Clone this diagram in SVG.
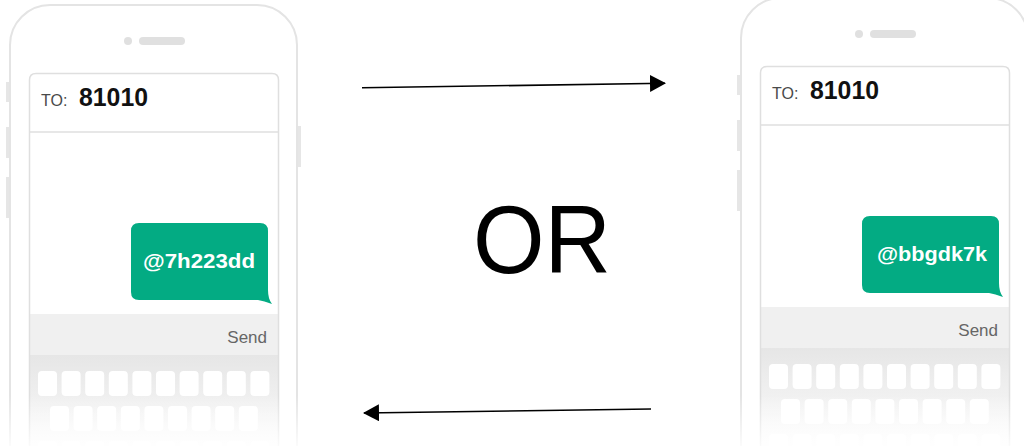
<svg xmlns="http://www.w3.org/2000/svg" width="1024" height="446" viewBox="0 0 1024 446">
<style>
.outline{fill:none;stroke:#e4e4e4;stroke-width:2}
.btn{fill:#e6e6e6}
.screen{fill:none;stroke:#dfdfdf;stroke-width:1.5}
.spk{fill:#e0e0e0}
.key{fill:#ffffff}
.to{font-family:"Liberation Sans",Arial,sans-serif;font-size:16px;fill:#4a4a4a}
.num{font-family:"Liberation Sans",Arial,sans-serif;font-size:26px;font-weight:bold;fill:#111}
.msg{font-family:"Liberation Sans",Arial,sans-serif;font-size:20px;font-weight:bold;fill:#fff}
.send{font-family:"Liberation Sans",Arial,sans-serif;font-size:17px;fill:#666}
.bubble{fill:#03ab83}
.or{font-family:"Liberation Sans",Arial,sans-serif;font-size:97px;fill:#000}
.arrow{stroke:#000;stroke-width:1.6;fill:none}
</style>
<defs>
<linearGradient id="kb" x1="0" y1="355" x2="0" y2="446" gradientUnits="userSpaceOnUse">
<stop offset="0" stop-color="#e6e6e6"/>
<stop offset="1" stop-color="#fafafa"/>
</linearGradient>
<linearGradient id="fade" x1="0" y1="395" x2="0" y2="446" gradientUnits="userSpaceOnUse">
<stop offset="0" stop-color="#fff" stop-opacity="0"/>
<stop offset="1" stop-color="#fff" stop-opacity="0.85"/>
</linearGradient>
<marker id="ah" markerWidth="16" markerHeight="17" refX="15" refY="8.5" orient="auto" markerUnits="userSpaceOnUse">
<path d="M0,0 L16,8.5 L0,17 Z" fill="#000"/>
</marker>
<g id="phone">
<rect class="outline" x="10" y="5" width="287" height="520" rx="40"/>
<rect class="btn" x="6" y="82" width="3" height="20"/>
<rect class="btn" x="6" y="127" width="3" height="31"/>
<rect class="btn" x="6" y="177" width="3" height="41"/>
<rect class="btn" x="298" y="126" width="3" height="41"/>
<circle class="spk" cx="128" cy="41" r="4"/>
<rect class="spk" x="139" y="37" width="46" height="8" rx="4"/>
<rect x="30" y="314" width="248" height="41" fill="#f0f0f0"/>
<rect x="30" y="355" width="248" height="100" fill="url(#kb)"/>
<g>
<rect class="key" x="38" y="371" width="19" height="25" rx="4"/>
<rect class="key" x="61.6" y="371" width="19" height="25" rx="4"/>
<rect class="key" x="85.2" y="371" width="19" height="25" rx="4"/>
<rect class="key" x="108.8" y="371" width="19" height="25" rx="4"/>
<rect class="key" x="132.4" y="371" width="19" height="25" rx="4"/>
<rect class="key" x="156" y="371" width="19" height="25" rx="4"/>
<rect class="key" x="179.6" y="371" width="19" height="25" rx="4"/>
<rect class="key" x="203.2" y="371" width="19" height="25" rx="4"/>
<rect class="key" x="226.8" y="371" width="19" height="25" rx="4"/>
<rect class="key" x="250.4" y="371" width="19" height="25" rx="4"/>
<rect class="key" x="50" y="406" width="19" height="25" rx="4"/>
<rect class="key" x="73.6" y="406" width="19" height="25" rx="4"/>
<rect class="key" x="97.2" y="406" width="19" height="25" rx="4"/>
<rect class="key" x="120.8" y="406" width="19" height="25" rx="4"/>
<rect class="key" x="144.4" y="406" width="19" height="25" rx="4"/>
<rect class="key" x="168" y="406" width="19" height="25" rx="4"/>
<rect class="key" x="191.6" y="406" width="19" height="25" rx="4"/>
<rect class="key" x="215.2" y="406" width="19" height="25" rx="4"/>
<rect class="key" x="238.8" y="406" width="19" height="25" rx="4"/>
<rect class="key" x="38" y="441" width="19" height="25" rx="4"/>
<rect class="key" x="61.6" y="441" width="19" height="25" rx="4"/>
<rect class="key" x="85.2" y="441" width="19" height="25" rx="4"/>
<rect class="key" x="108.8" y="441" width="19" height="25" rx="4"/>
<rect class="key" x="132.4" y="441" width="19" height="25" rx="4"/>
<rect class="key" x="156" y="441" width="19" height="25" rx="4"/>
<rect class="key" x="179.6" y="441" width="19" height="25" rx="4"/>
<rect class="key" x="203.2" y="441" width="19" height="25" rx="4"/>
<rect class="key" x="226.8" y="441" width="19" height="25" rx="4"/>
<rect class="key" x="250.4" y="441" width="19" height="25" rx="4"/>
</g>
<path class="screen" d="M29.5,460 V80 Q29.5,73.5 36,73.5 H272 Q278.5,73.5 278.5,80 V460"/>
<line class="screen" x1="29.5" y1="132" x2="278.5" y2="132"/>
<path class="bubble" d="M139,223 H260 Q268,223 268,231 V290 Q268,299 272,304 Q264,301 258,300 H139 Q131,300 131,292 V231 Q131,223 139,223 Z"/>
</g>
</defs>

<g id="phone-left">
<use href="#phone"/>
<text class="to" x="41" y="106">TO:</text>
<text class="num" x="79" y="106" textLength="69" lengthAdjust="spacingAndGlyphs">81010</text>
<text class="msg" x="143" y="268" textLength="112" lengthAdjust="spacingAndGlyphs">@7h223dd</text>
<text class="send" x="267" y="343" text-anchor="end">Send</text>
</g>

<g id="phone-right">
<use href="#phone" transform="translate(731,-7)"/>
<text class="to" x="772" y="99">TO:</text>
<text class="num" x="810" y="99" textLength="69" lengthAdjust="spacingAndGlyphs">81010</text>
<text class="msg" x="877" y="261" textLength="110" lengthAdjust="spacingAndGlyphs">@bbgdk7k</text>
<text class="send" x="998" y="336" text-anchor="end">Send</text>
</g>

<rect x="0" y="395" width="1024" height="51" fill="url(#fade)"/>

<g id="or-label">
<text class="or" x="473" y="273" textLength="138" lengthAdjust="spacingAndGlyphs">OR</text>
</g>

<g id="connectors">
<line class="arrow" x1="362" y1="87.7" x2="665" y2="83.3" marker-end="url(#ah)"/>
<line class="arrow" x1="651" y1="409" x2="364" y2="413" marker-end="url(#ah)"/>
</g>
</svg>
